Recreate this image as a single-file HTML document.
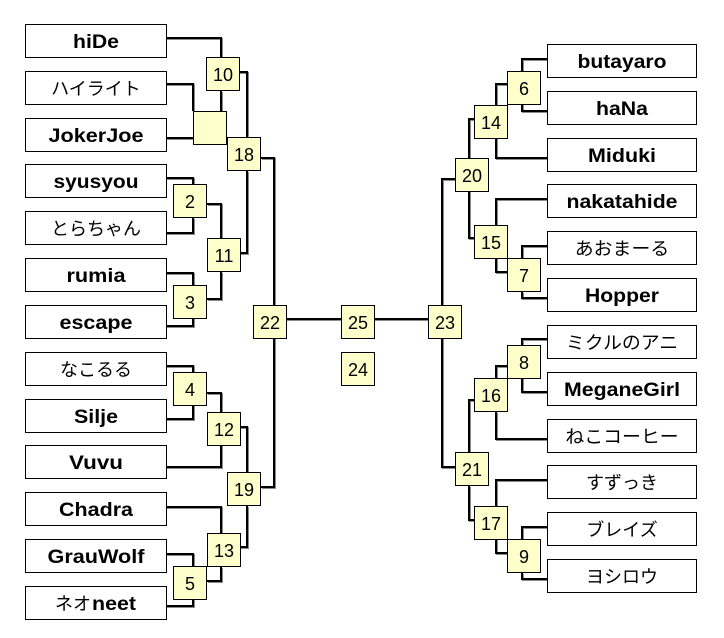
<!DOCTYPE html>
<html><head><meta charset="utf-8"><style>
html,body{margin:0;padding:0;background:#fff;}
svg{display:block;}
.b{font-family:"Liberation Sans","Noto Sans CJK JP",sans-serif;font-weight:bold;font-size:19px;}
.j{font-family:"Liberation Sans","Noto Sans CJK JP",sans-serif;font-size:18px;}
.n{font-family:"Liberation Sans",sans-serif;font-size:18px;}
</style></head><body>
<svg width="724" height="638" viewBox="0 0 724 638" xmlns="http://www.w3.org/2000/svg">
<rect width="724" height="638" fill="#fff"/>
<defs>
<g id="L" fill="none" stroke-width="2" stroke-linejoin="miter">
<path d="M166,38 H221 V57"/>
<path d="M166,84 H193 V111"/>
<path d="M166,138 H193"/>
<path d="M221,91 V111"/>
<path d="M239,72 H247 V137"/>
<path d="M166,178 H193 V184"/>
<path d="M166,233 H193 V218"/>
<path d="M207,204 H221 V238"/>
<path d="M166,273 H193 V285"/>
<path d="M166,326 H193 V318"/>
<path d="M207,299 H221 V272"/>
<path d="M240,253 H247 V171"/>
<path d="M261,158 H274 V305"/>
<path d="M261,487 H274 V338"/>
<path d="M286,319 H341"/>
<path d="M374,319 H428"/>
<path d="M166,366 H193 V372"/>
<path d="M166,419 H193 V405"/>
<path d="M207,393 H221 V412"/>
<path d="M166,467 H221 V445"/>
<path d="M240,427 H247 V472"/>
<path d="M166,507 H221 V533"/>
<path d="M166,554 H193 V566"/>
<path d="M166,606 H193 V599"/>
<path d="M207,581 H221 V567"/>
<path d="M240,547 H247 V506"/>
<path d="M547,59 H522 V71"/>
<path d="M547,111 H522 V104"/>
<path d="M507,84 H496 V105"/>
<path d="M547,158 H496 V138"/>
<path d="M474,119 H469 V158"/>
<path d="M455,179 H442 V305"/>
<path d="M547,199 H496 V225"/>
<path d="M547,246 H522 V258"/>
<path d="M547,298 H522 V292"/>
<path d="M507,272 H496 V258"/>
<path d="M474,238 H469 V191"/>
<path d="M547,339 H522 V345"/>
<path d="M547,392 H522 V378"/>
<path d="M507,366 H496 V378"/>
<path d="M547,439 H496 V412"/>
<path d="M474,400 H469 V452"/>
<path d="M442,338 V467 H455"/>
<path d="M547,480 H496 V506"/>
<path d="M547,527 H522 V539"/>
<path d="M547,579 H522 V573"/>
<path d="M507,553 H496 V539"/>
<path d="M474,520 H469 V486"/>
</g>
</defs>
<use href="#L" transform="translate(1,1)" stroke="#8a8a8a"/>
<use href="#L" stroke="#000"/>

<g fill="#fff" stroke="#000" stroke-width="1">
<rect x="25.5" y="24.5" width="141" height="33"/>
<rect x="25.5" y="71.5" width="141" height="33"/>
<rect x="25.5" y="118.5" width="141" height="33"/>
<rect x="25.5" y="164.5" width="141" height="33"/>
<rect x="25.5" y="211.5" width="141" height="33"/>
<rect x="25.5" y="258.5" width="141" height="33"/>
<rect x="25.5" y="305.5" width="141" height="33"/>
<rect x="25.5" y="352.5" width="141" height="33"/>
<rect x="25.5" y="399.5" width="141" height="33"/>
<rect x="25.5" y="445.5" width="141" height="33"/>
<rect x="25.5" y="492.5" width="141" height="33"/>
<rect x="25.5" y="539.5" width="141" height="33"/>
<rect x="25.5" y="586.5" width="141" height="33"/>
<rect x="547.5" y="44.5" width="149" height="33"/>
<rect x="547.5" y="91.5" width="149" height="33"/>
<rect x="547.5" y="138.5" width="149" height="33"/>
<rect x="547.5" y="184.5" width="149" height="33"/>
<rect x="547.5" y="231.5" width="149" height="33"/>
<rect x="547.5" y="278.5" width="149" height="33"/>
<rect x="547.5" y="325.5" width="149" height="33"/>
<rect x="547.5" y="372.5" width="149" height="33"/>
<rect x="547.5" y="419.5" width="149" height="33"/>
<rect x="547.5" y="465.5" width="149" height="33"/>
<rect x="547.5" y="512.5" width="149" height="33"/>
<rect x="547.5" y="559.5" width="149" height="33"/>
</g>

<g fill="#ffffcc" stroke="#000" stroke-width="1">
<rect x="173.5" y="184.5" width="33" height="33"/>
<rect x="173.5" y="285.5" width="33" height="33"/>
<rect x="173.5" y="372.5" width="33" height="33"/>
<rect x="173.5" y="566.5" width="33" height="33"/>
<rect x="206.5" y="57.5" width="33" height="33"/>
<rect x="193.5" y="111.5" width="33" height="33"/>
<rect x="207.5" y="238.5" width="33" height="33"/>
<rect x="207.5" y="412.5" width="33" height="33"/>
<rect x="207.5" y="533.5" width="33" height="33"/>
<rect x="227.5" y="137.5" width="33" height="33"/>
<rect x="227.5" y="472.5" width="33" height="33"/>
<rect x="253.5" y="305.5" width="33" height="33"/>
<rect x="341.5" y="305.5" width="33" height="33"/>
<rect x="341.5" y="352.5" width="33" height="33"/>
<rect x="428.5" y="305.5" width="33" height="33"/>
<rect x="507.5" y="71.5" width="33" height="33"/>
<rect x="474.5" y="105.5" width="33" height="33"/>
<rect x="455.5" y="158.5" width="33" height="33"/>
<rect x="474.5" y="225.5" width="33" height="33"/>
<rect x="507.5" y="258.5" width="33" height="33"/>
<rect x="507.5" y="345.5" width="33" height="33"/>
<rect x="474.5" y="378.5" width="33" height="33"/>
<rect x="455.5" y="452.5" width="33" height="33"/>
<rect x="474.5" y="506.5" width="33" height="33"/>
<rect x="507.5" y="539.5" width="33" height="33"/>
</g>

<g class="n" text-anchor="middle" fill="#000">
<text x="190" y="208">2</text>
<text x="190" y="309">3</text>
<text x="190" y="396">4</text>
<text x="190" y="590">5</text>
<text x="223" y="81">10</text>
<text x="224" y="262">11</text>
<text x="224" y="436">12</text>
<text x="224" y="557">13</text>
<text x="244" y="161">18</text>
<text x="244" y="496">19</text>
<text x="270" y="329">22</text>
<text x="358" y="329">25</text>
<text x="358" y="376">24</text>
<text x="445" y="329">23</text>
<text x="524" y="95">6</text>
<text x="491" y="129">14</text>
<text x="472" y="182">20</text>
<text x="491" y="249">15</text>
<text x="524" y="282">7</text>
<text x="524" y="369">8</text>
<text x="491" y="402">16</text>
<text x="472" y="476">21</text>
<text x="491" y="530">17</text>
<text x="524" y="563">9</text>
</g>

<g fill="#000">
<text class="b" x="96" y="48" text-anchor="middle" textLength="46" lengthAdjust="spacingAndGlyphs">hiDe</text>
<text class="j" x="96" y="95" text-anchor="middle">ハイライト</text>
<text class="b" x="96" y="142" text-anchor="middle" textLength="95" lengthAdjust="spacingAndGlyphs">JokerJoe</text>
<text class="b" x="96" y="188" text-anchor="middle" textLength="85" lengthAdjust="spacingAndGlyphs">syusyou</text>
<text class="j" x="96" y="235" text-anchor="middle">とらちゃん</text>
<text class="b" x="96" y="282" text-anchor="middle" textLength="59" lengthAdjust="spacingAndGlyphs">rumia</text>
<text class="b" x="96" y="329" text-anchor="middle" textLength="73" lengthAdjust="spacingAndGlyphs">escape</text>
<text class="j" x="96" y="376" text-anchor="middle">なこるる</text>
<text class="b" x="96" y="423" text-anchor="middle" textLength="44" lengthAdjust="spacingAndGlyphs">Silje</text>
<text class="b" x="96" y="469" text-anchor="middle" textLength="54" lengthAdjust="spacingAndGlyphs">Vuvu</text>
<text class="b" x="96" y="516" text-anchor="middle" textLength="74" lengthAdjust="spacingAndGlyphs">Chadra</text>
<text class="b" x="96" y="563" text-anchor="middle" textLength="97" lengthAdjust="spacingAndGlyphs">GrauWolf</text>
<text class="j" x="55" y="610">ネオ</text>
<text class="b" x="92" y="610" textLength="44" lengthAdjust="spacingAndGlyphs">neet</text>
</g>

<g fill="#000" text-anchor="middle">
<text class="b" x="622" y="68" textLength="89" lengthAdjust="spacingAndGlyphs">butayaro</text>
<text class="b" x="622" y="115" textLength="52" lengthAdjust="spacingAndGlyphs">haNa</text>
<text class="b" x="622" y="162" textLength="68" lengthAdjust="spacingAndGlyphs">Miduki</text>
<text class="b" x="622" y="208" textLength="111" lengthAdjust="spacingAndGlyphs">nakatahide</text>
<text class="j" transform="translate(622,255) scale(1.05,1)">あおまーる</text>
<text class="b" x="622" y="302" textLength="74" lengthAdjust="spacingAndGlyphs">Hopper</text>
<text class="j" transform="translate(622,349) scale(1.05,1)">ミクルのアニ</text>
<text class="b" x="622" y="396" textLength="116" lengthAdjust="spacingAndGlyphs">MeganeGirl</text>
<text class="j" transform="translate(622,443) scale(1.05,1)">ねこコーヒー</text>
<text class="j" x="622" y="489">すずっき</text>
<text class="j" x="622" y="536">ブレイズ</text>
<text class="j" x="622" y="583">ヨシロウ</text>
</g>
</svg>
</body></html>
